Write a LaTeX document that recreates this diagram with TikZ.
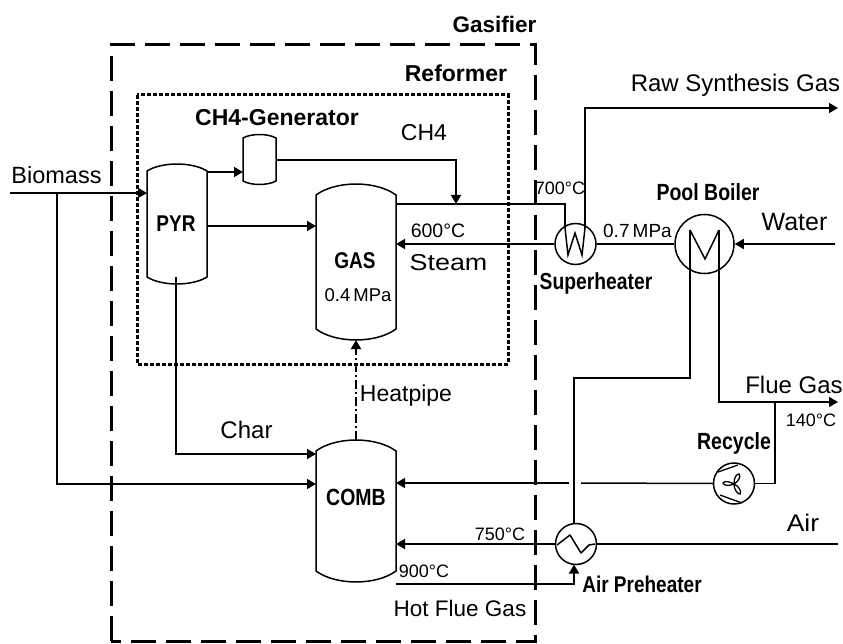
\documentclass[tikz,border=0pt]{standalone}
\usepackage{fontspec}
\usepackage{graphicx}
\setmainfont{Liberation Sans}
\usetikzlibrary{arrows.meta}
\newcommand{\tallb}[1]{\scalebox{1}[1.2]{#1}}
\newcommand{\wideb}[2]{\scalebox{#1}[1]{#2}}
\newcommand{\vesselshape}[6]{% name, x1, x2, ytop, ybot, bulge
  \node[anchorbox,minimum width={(#3-#2)*1pt},minimum height={(#5-#4)*1pt}] (#1) at ({(#2+#3)/2},{(#4+#5)/2}) {};
  \draw[unit] (#2,#4) .. controls ({#2+(#3-#2)*0.25},{#4-#6*1.33}) and ({#2+(#3-#2)*0.75},{#4-#6*1.33}) .. (#3,#4)
    -- (#3,#5) .. controls ({#2+(#3-#2)*0.75},{#5+#6*1.33}) and ({#2+(#3-#2)*0.25},{#5+#6*1.33}) .. (#2,#5) -- cycle;
}
\tikzset{
  unit/.style={line width=1.5pt,black},
  anchorbox/.style={inner sep=0pt,outer sep=0pt},
  stream/.style={line width=1.5pt,black,-{Triangle[length=9pt,width=10pt]}},
  plainline/.style={line width=1.5pt,black},
  lab/.style={font=\fontsize{#1}{#1}\selectfont,inner sep=0pt,text=black},
  lab/.default=23.5,
  small/.style={font=\fontsize{#1}{#1}\selectfont,inner sep=0pt,text=black},
  small/.default=18,
  bold/.style={font=\bfseries\fontsize{#1}{#1}\selectfont,inner sep=0pt,text=black},
  bold/.default=19.5,
  ring/.style={circle,draw,line width=1.5pt,inner sep=0pt,fill=none},
  petal/.style={line width=1.3pt,black},
}
\begin{document}
\begin{tikzpicture}[x=1pt,y=-1pt]
\useasboundingbox (0,0) rectangle (843,644);
\fill[white] (0,0) rectangle (843,644);
% boundaries
\draw[line width=3pt,dash pattern=on 25pt off 10pt] (111,641) -- (111,45) -- (535,45) -- (535,641) -- (111,641);
\draw[line width=3pt,dash pattern=on 4pt off 2pt] (137,95) rectangle (508,364);
% vessels
\vesselshape{pyr}{147}{207}{171}{277}{7}
\vesselshape{gen}{243}{276}{138}{181}{3.5}
\vesselshape{gas}{316}{396}{195}{329}{11}
\vesselshape{comb}{316}{396}{451}{571}{11}
% units
\node[ring,minimum size=41pt] (sh) at (575.5,244) {};
\node[ring,minimum size=59pt] (pb) at (704.5,244) {};
\node[ring,minimum size=41pt] (fan) at (734,483.5) {};
\node[ring,minimum size=41pt] (ap) at (576,544) {};
% ports
\coordinate (bio) at (10,193);
\coordinate (biosplit) at (57,193);
\coordinate (raw) at (838,108);
\coordinate (water) at (835,244);
\coordinate (flue) at (838,402);
\coordinate (air) at (838,544);
\coordinate (shin) at (565,228);
\coordinate (shout) at (585,228);
\coordinate (pbl) at (690,230);
\coordinate (pbr) at (719,230);
\coordinate (rec) at (775,402);
\coordinate (aptop) at (574,524);
\coordinate (apbot) at (574,564.5);
\coordinate (gapr) at (581,483);
\coordinate (gapl) at (569,483);
% connectors
\draw[stream] (bio) -- (pyr.west |- bio);
\draw[stream] (biosplit) |- (comb.west |- 0,484);
\draw[stream] (pyr.east |- 0,172) -- (gen.west |- 0,172);
\draw[stream] (pyr.east |- 0,226) -- (gas.west |- 0,226);
\draw[stream] (gen.east |- 0,160) -| (456,204);
\draw[plainline] (gas.east |- 0,204) -| (shin);
\draw[stream] (sh.west) -- (gas.east |- sh.west);
\draw[plainline] (sh.east) -- (pb.west);
\draw[stream] (shout) |- (raw);
\draw[stream] (water) -- (pb.east);
\draw[plainline] (pbl) |- (574,378) -- (aptop);
\draw[stream] (pbr) |- (flue);
\draw[plainline] (rec) |- (fan.east);
\draw[plainline] (fan.west) -- (gapr);
\draw[stream] (gapl) -- (comb.east |- gapl);
\draw[plainline] (air) -- (ap.east);
\draw[stream] (ap.west) -- (comb.east |- ap.west);
\draw[stream] (comb.east |- 0,584) -| (apbot);
\draw[stream] (pyr.south -| 176,0) |- (comb.west |- 0,454);
\draw[stream,dash pattern=on 9pt off 3pt on 2pt off 3pt] (comb.north) ++(0,-11) -- (356,340);
% internals
\draw[plainline,line join=miter] (shin) -- (568,255) -- (575,233) -- (582,255) -- (shout);
\draw[plainline,line join=miter] (pbl) -- (705,259) -- (pbr);
\draw[plainline,line join=round] (557,545) -- (570,535) -- (581,553) -- (589,545) -- (595,544);
% fan
\draw[petal] (734,484) .. controls (734,478) and (736,474) .. (739,474) .. controls (741,476) and (739,481) .. (734,484);
\draw[petal] (734,484) .. controls (729,481) and (724,481) .. (723,483) .. controls (724,486) and (729,486) .. (734,484);
\draw[petal] (734,484) .. controls (734,489) and (737,494) .. (740,494) .. controls (742,492) and (739,486) .. (734,484);
\draw[line width=1.3pt] (718,472) -- (738,465) (720,495) -- (742,503);
% labels
\node[bold=22.5] (tgasifier) at (494.5,24) {Gasifier};
\node[bold=23] (treformer) at (456,73) {Reformer};
\node[bold=23] (tgen) at (277,118) {CH4-Generator};
\node[lab=23] (tch4) at (424,133) {CH4};
\node[lab=24] (traw) at (735.5,85) {Raw Synthesis Gas};
\node[lab=23.5] (tbio) at (56.5,175) {Biomass};
\node[bold=19] (tpyr) at (176,224) {\tallb{PYR}};
\node[bold=19] (tgas) at (355,261) {\tallb{GAS}};
\node[small=18.5] (t04) at (358,295) {0.4\,MPa};
\node[bold] (tcomb) at (356,497) {\tallb{COMB}};
\node[small] (t700) at (560,188) {700°C};
\node[small=19.5] (t600) at (438,231) {600°C};
\node[lab=23] (tsteam) at (448.5,263) {\wideb{1.17}{Steam}};
\node[small=19] (t07) at (637.5,231) {0.7\,MPa};
\node[bold] (tpb) at (708,192) {\tallb{Pool Boiler}};
\node[lab=25] (twater) at (794.5,222) {Water};
\node[bold=19.3] (tsh) at (596,284) {\tallb{Superheater}};
\node[lab=24] (tflue) at (794,385) {Flue Gas};
\node[small] (t140) at (811,420) {140°C};
\node[bold] (trec) at (734,443) {\tallb{Recycle}};
\node[lab=23] (theat) at (406,396) {Heatpipe};
\node[lab=24] (tchar) at (246.5,430) {Char};
\node[lab=24] (tair) at (803,523) {\wideb{1.1}{Air}};
\node[small] (t750) at (500,534) {750°C};
\node[small] (t900) at (424,571) {900°C};
\node[bold=19] (tap) at (642,584) {\tallb{Air Preheater}};
\node[lab=22.5] (thot) at (460,608) {Hot Flue Gas};
\end{tikzpicture}
\end{document}
